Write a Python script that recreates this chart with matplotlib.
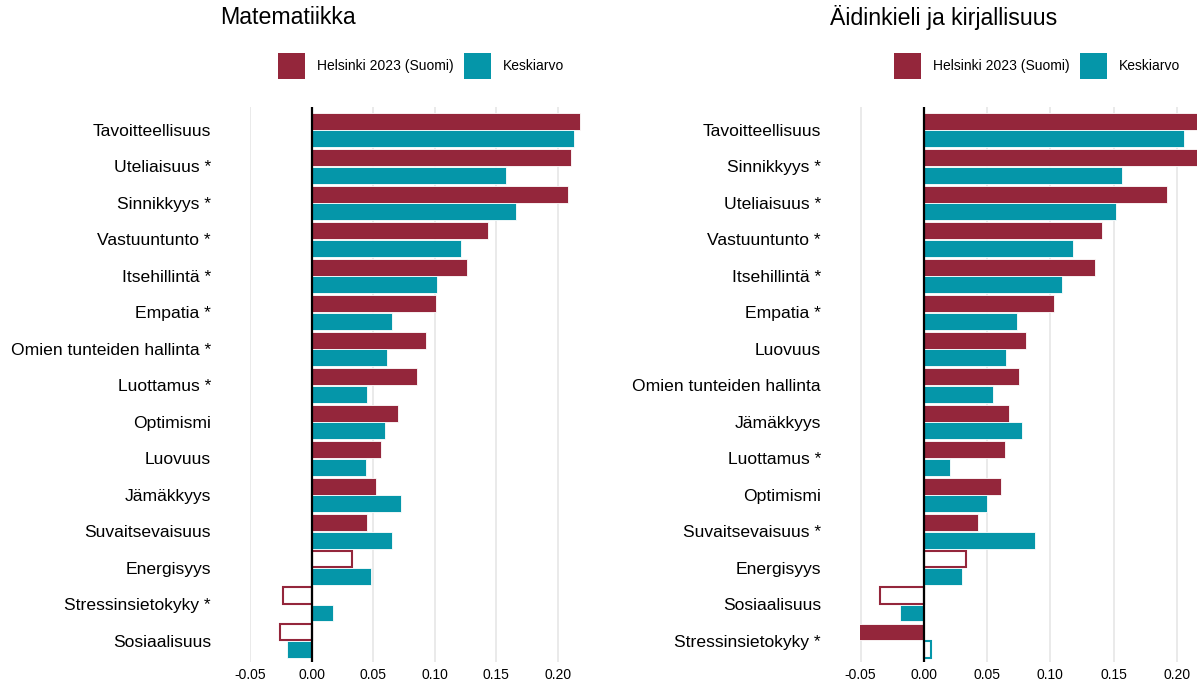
import matplotlib.pyplot as plt
import numpy as np
from matplotlib.patches import Patch

plt.rcParams['font.family'] = ['Liberation Sans', 'DejaVu Sans']

RED = '#94263B'
TEAL = '#0596A9'

# Matematiikka
math_labels = ['Tavoitteellisuus', 'Uteliaisuus *', 'Sinnikkyys *', 'Vastuuntunto *',
               'Itsehillintä *', 'Empatia *', 'Omien tunteiden hallinta *', 'Luottamus *',
               'Optimismi', 'Luovuus', 'Jämäkkyys', 'Suvaitsevaisuus', 'Energisyys',
               'Stressinsietokyky *', 'Sosiaalisuus']
math_helsinki = [0.218, 0.211, 0.208, 0.143, 0.126, 0.101, 0.093, 0.086,
                 0.070, 0.056, 0.052, 0.045, 0.033, -0.023, -0.026]
math_mean = [0.213, 0.158, 0.166, 0.121, 0.102, 0.065, 0.061, 0.045,
             0.060, 0.044, 0.073, 0.065, 0.048, 0.017, -0.020]
math_h_hollow = [False] * 12 + [True, True, True]
math_m_hollow = [False] * 15

# Äidinkieli ja kirjallisuus
lang_labels = ['Tavoitteellisuus', 'Sinnikkyys *', 'Uteliaisuus *', 'Vastuuntunto *',
               'Itsehillintä *', 'Empatia *', 'Luovuus', 'Omien tunteiden hallinta',
               'Jämäkkyys', 'Luottamus *', 'Optimismi', 'Suvaitsevaisuus *', 'Energisyys',
               'Sosiaalisuus', 'Stressinsietokyky *']
lang_helsinki = [0.232, 0.226, 0.192, 0.141, 0.135, 0.103, 0.081, 0.075,
                 0.067, 0.064, 0.061, 0.043, 0.033, -0.035, -0.053]
lang_mean = [0.206, 0.157, 0.152, 0.118, 0.109, 0.074, 0.065, 0.055,
             0.078, 0.021, 0.050, 0.088, 0.030, -0.019, 0.0055]
lang_h_hollow = [False] * 12 + [True, True, False]
lang_m_hollow = [False] * 14 + [True]

ticks = [-0.05, 0.0, 0.05, 0.10, 0.15, 0.20]
series_names = ['Helsinki 2023 (Suomi)', 'Keskiarvo']


def draw_bars(ax, values, hollow, offset, color):
    y = np.arange(len(values)) + offset
    for yi, v, h in zip(y, values, hollow):
        if h:
            ax.barh(yi, v, height=0.46, color='white', edgecolor=color, linewidth=1.5, zorder=2)
        else:
            ax.barh(yi, v, height=0.46, color=color, edgecolor='white', linewidth=0.6, zorder=2)


def panel(fig, rect, title, labels, hel, mean, h_hol, m_hol, xlim, legend_x):
    ax = fig.add_axes(rect)
    draw_bars(ax, hel, h_hol, -0.24, RED)
    draw_bars(ax, mean, m_hol, 0.24, TEAL)
    ax.axvline(0, color='black', linewidth=1.6, zorder=3)
    ax.set_xlim(*xlim)
    ax.set_ylim(len(labels) - 0.42, -0.63)
    ax.set_yticks(np.arange(len(labels)))
    ax.set_yticklabels(labels, fontsize=12.6)
    ax.set_xticks(ticks)
    ax.set_xticklabels([f'{t:.2f}' for t in ticks], fontsize=10)
    ax.tick_params(length=0, axis='y', pad=28)
    ax.tick_params(length=0, axis='x', pad=4)
    ax.grid(axis='x', color='#E6E6E6', linewidth=1.2, zorder=0)
    ax.set_axisbelow(True)
    for s in ax.spines.values():
        s.set_visible(False)

    # title and legend above the axes
    fig.text(rect[0] - 30 / 1197, 1 - 18 / 685, title, fontsize=16.7, va='center', ha='left')
    handles = [Patch(facecolor=RED), Patch(facecolor=TEAL)]
    ax.legend(handles, series_names, loc='center', ncol=2, frameon=False, fontsize=10,
              handlelength=1.95, handleheight=2.6, columnspacing=0.7, handletextpad=0.85,
              bbox_to_anchor=(legend_x / 1197, 1 - 66 / 685),
              bbox_transform=fig.transFigure)
    return ax


fig = plt.figure(figsize=(11.97, 6.85), dpi=100)

panel(fig, [250 / 1197, 1 - 662 / 685, 351 / 1197, 555 / 685], 'Matematiikka',
      math_labels, math_helsinki, math_mean, math_h_hollow, math_m_hollow, (-0.05, 0.235), 421)
panel(fig, [860 / 1197, 1 - 662 / 685, 337 / 1197, 555 / 685], 'Äidinkieli ja kirjallisuus',
      lang_labels, lang_helsinki, lang_mean, lang_h_hollow, lang_m_hollow, (-0.0505, 0.216), 1037)

fig.savefig('out.png', dpi=100)
